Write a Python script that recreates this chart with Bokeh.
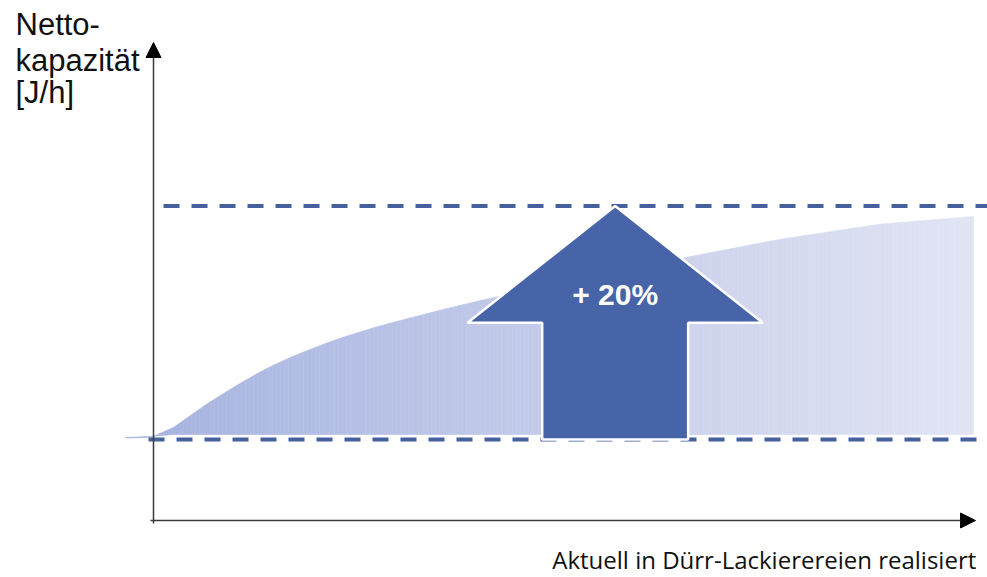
import numpy as np
from bokeh.plotting import figure
from bokeh.models import Range1d, Label, Arrow, NormalHead
from bokeh.embed import file_html
from bokeh.resources import INLINE

# ---------------- data ----------------
# relative position along the x axis (0 = y axis, 100 = end of curve)
curve_x = [-3.4, 0.0, 0.24, 2.44, 4.51, 6.59, 8.54, 10.61, 12.68, 14.63, 16.71, 18.78,
           20.73, 22.8, 26.83, 30.98, 35.0, 39.02, 42.3, 64.27, 76.46, 88.66, 100.0]
# net capacity (upper edge of the shaded area), baseline = 100
curve_top = [100.17, 100.28, 100.34, 101.03, 102.06, 103.08, 103.94, 104.83, 105.66, 106.36,
             107.03, 107.63, 108.16, 108.68, 109.57, 110.36, 111.08, 111.76, 112.28, 115.5,
             117.15, 118.45, 119.1]
curve_bottom = [100.12, 100.2, 100.3, 100.43, 100.43, 100.43, 100.43, 100.43, 100.43, 100.43,
                100.43, 100.43, 100.43, 100.43, 100.43, 100.43, 100.43, 100.43, 100.43, 100.43,
                100.43, 100.43, 100.43]

baseline_capacity = 100.0
target_capacity = 120.0          # +20 %
increase_label = "+ 20%"

y_title = ["Netto-", "kapazität", "[J/h]"]
x_title = "Aktuell  in Dürr-Lackierereien realisiert"

# ---------------- figure ----------------
W, H = 987, 577
px_x = 8.2      # pixels per x unit
px_y = 11.675   # pixels per y unit
x0_px, y100_px = 153, 439
TXT_SHIFT = 11  # compensate label baseline offset (px)

x_range = Range1d(-x0_px / px_x, (W - x0_px) / px_x)
y_range = Range1d(100 - (H - y100_px) / px_y, 100 + y100_px / px_y)

p = figure(width=W, height=H, x_range=x_range, y_range=y_range,
           x_axis_type=None, y_axis_type=None, toolbar_location=None,
           output_backend="svg", min_border=0)
p.outline_line_color = None
p.grid.visible = False
p.background_fill_color = "white"


def xd(px):
    return (px - x0_px) / px_x


def yd(py):
    return 100 + (y100_px - py) / px_y


# ---------------- gradient area (strips) ----------------
fine_x = np.linspace(curve_x[0], curve_x[-1], 220)
fine_top = np.interp(fine_x, curve_x, curve_top)
fine_bot = np.interp(fine_x, curve_x, curve_bottom)
c_left = np.array([0xA6, 0xB3, 0xE0])
c_right = np.array([0xE2, 0xE5, 0xF4])
xs, ys, cols = [], [], []
for i in range(len(fine_x) - 1):
    xs.append([fine_x[i], fine_x[i + 1], fine_x[i + 1], fine_x[i]])
    ys.append([fine_bot[i], fine_bot[i + 1], fine_top[i + 1], fine_top[i]])
    t = (fine_x[i] - fine_x[0]) / (fine_x[-1] - fine_x[0])
    c = (c_left * (1 - t) + c_right * t).astype(int)
    cols.append("#%02x%02x%02x" % tuple(c))
p.patches(xs, ys, fill_color=cols, line_color=cols, line_width=0.6)

# ---------------- dashed reference lines ----------------
dash_col = "#46609E"
p.line([xd(148), xd(976)], [baseline_capacity, baseline_capacity],
       line_color=dash_col, line_width=4, line_dash="16 12")
p.line([xd(163), xd(990)], [target_capacity, target_capacity],
       line_color=dash_col, line_width=4, line_dash="16 12")

# ---------------- block arrow ----------------
ac = 56.3
shaft_half = 8.9
head_half = 18.0
head_base = baseline_capacity + (target_capacity - baseline_capacity) / 2
arrow_x = [ac - shaft_half, ac - shaft_half, ac - head_half, ac, ac + head_half,
           ac + shaft_half, ac + shaft_half]
arrow_y = [baseline_capacity, head_base, head_base, target_capacity, head_base,
           head_base, baseline_capacity]
p.patch(arrow_x, arrow_y, fill_color="#4764A8", line_color="white", line_width=2.5)

p.add_layout(Label(x=ac, y=yd(305 - TXT_SHIFT), text=increase_label, text_color="white",
                   text_font="Liberation Sans", text_font_style="bold",
                   text_font_size="30px", text_align="center",
                   text_baseline="alphabetic"))

# ---------------- axes with arrow heads ----------------
axis_col = "#3A3A3A"
p.add_layout(Arrow(end=NormalHead(size=15, fill_color="black", line_color="black"),
                   x_start=0, y_start=yd(523), x_end=0, y_end=yd(42),
                   line_color=axis_col, line_width=1.5))
p.add_layout(Arrow(end=NormalHead(size=15, fill_color="black", line_color="black"),
                   x_start=xd(150), y_start=yd(520), x_end=xd(975), y_end=yd(520),
                   line_color=axis_col, line_width=1.5))

# ---------------- titles ----------------
for txt, base in zip(y_title, [35, 71, 103]):
    p.add_layout(Label(x=xd(15), y=yd(base - TXT_SHIFT), text=txt, text_color="#111111",
                       text_font="Liberation Sans", text_font_size="31px",
                       text_align="left", text_baseline="alphabetic"))

p.add_layout(Label(x=xd(982), y=yd(570 - TXT_SHIFT), text=x_title, text_color="#111111",
                   text_font="Open Sans", text_font_size="24px",
                   text_align="right", text_baseline="alphabetic"))

open("out.html", "w").write(file_html(p, INLINE))
